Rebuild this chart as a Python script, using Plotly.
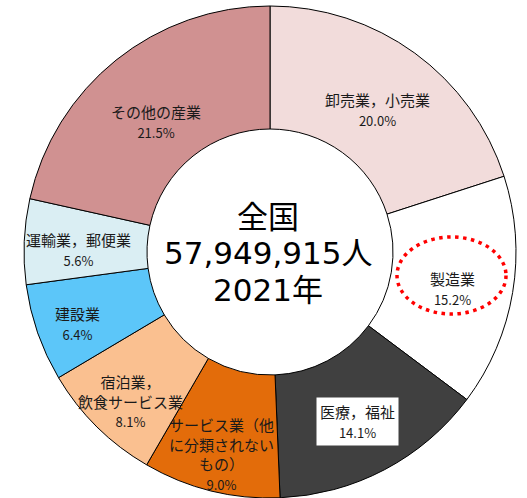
import plotly.graph_objects as go

# Employed persons by industry, nationwide, 2021 (share %)
industries = [
    "卸売業，小売業",
    "製造業",
    "医療，福祉",
    "サービス業（他に分類されないもの）",
    "宿泊業，飲食サービス業",
    "建設業",
    "運輸業，郵便業",
    "その他の産業",
]
shares = [20.0, 15.2, 14.1, 9.0, 8.1, 6.4, 5.6, 21.5]
slice_colors = [
    "#F2DCDB",
    "#FFFFFF",
    "#404040",
    "#E36C0A",
    "#FAC090",
    "#5CC6F9",
    "#DAEEF3",
    "#D09191",
]
# label text lines shown on each slice (percent added from shares)
label_lines = [
    ["卸売業，小売業"],
    ["製造業"],
    ["医療，福祉"],
    ["サービス業（他", "に分類されない", "もの）"],
    ["宿泊業，", "飲食サービス業"],
    ["建設業"],
    ["運輸業，郵便業"],
    ["その他の産業"],
]
center_lines = ["全国", "57,949,915人", "2021年"]

W, H = 527, 498
FONT = "Noto Sans CJK JP"


def px(x):
    return x / W


def py(y):
    return 1 - y / H


fig = go.Figure(
    go.Pie(
        labels=industries,
        values=shares,
        sort=False,
        direction="clockwise",
        rotation=0,
        hole=0.5,
        marker=dict(colors=slice_colors, line=dict(color="#000000", width=1)),
        textinfo="none",
        hoverinfo="skip",
        showlegend=False,
        domain=dict(x=[px(24), px(516)], y=[0, py(6)]),
    )
)

# label anchor points (pixels) for each slice
label_pos = [
    (377, 110),
    (452, 288),
    (357, 421),
    (221, 454),
    (130, 401),
    (77, 323),
    (78, 249),
    (156, 122),
]

annotations = []
for lines, val, (x, y), col in zip(label_lines, shares, label_pos, slice_colors):
    txt = "<br>".join(lines) + f"<br><span style='font-size:13px'>{val:.1f}%</span>"
    ann = dict(
        x=px(x), y=py(y), xref="paper", yref="paper",
        xanchor="center", yanchor="middle",
        text=txt, showarrow=False, align="center",
        font=dict(family=FONT, size=15, color="#1A1A1A"),
    )
    if col == "#404040":
        ann.update(bgcolor="#FFFFFF", borderpad=3)
    annotations.append(ann)

# centre caption, one line at a time
for line, y in zip(center_lines, [217, 253, 290]):
    annotations.append(dict(
        x=px(268), y=py(y), xref="paper", yref="paper",
        xanchor="center", yanchor="middle",
        text=line, showarrow=False,
        font=dict(family="DejaVu Sans, " + FONT, size=31, color="#000000"),
    ))

fig.update_layout(
    width=W, height=H,
    margin=dict(l=0, r=0, t=0, b=0),
    paper_bgcolor="#FFFFFF",
    plot_bgcolor="#FFFFFF",
    annotations=annotations,
    shapes=[dict(
        type="circle", xref="paper", yref="paper",
        x0=px(397), x1=px(506), y0=py(314), y1=py(237),
        line=dict(color="#FF0000", width=3.5, dash="3.5px,4.5px"),
    )],
)

fig.write_html("out.html")
